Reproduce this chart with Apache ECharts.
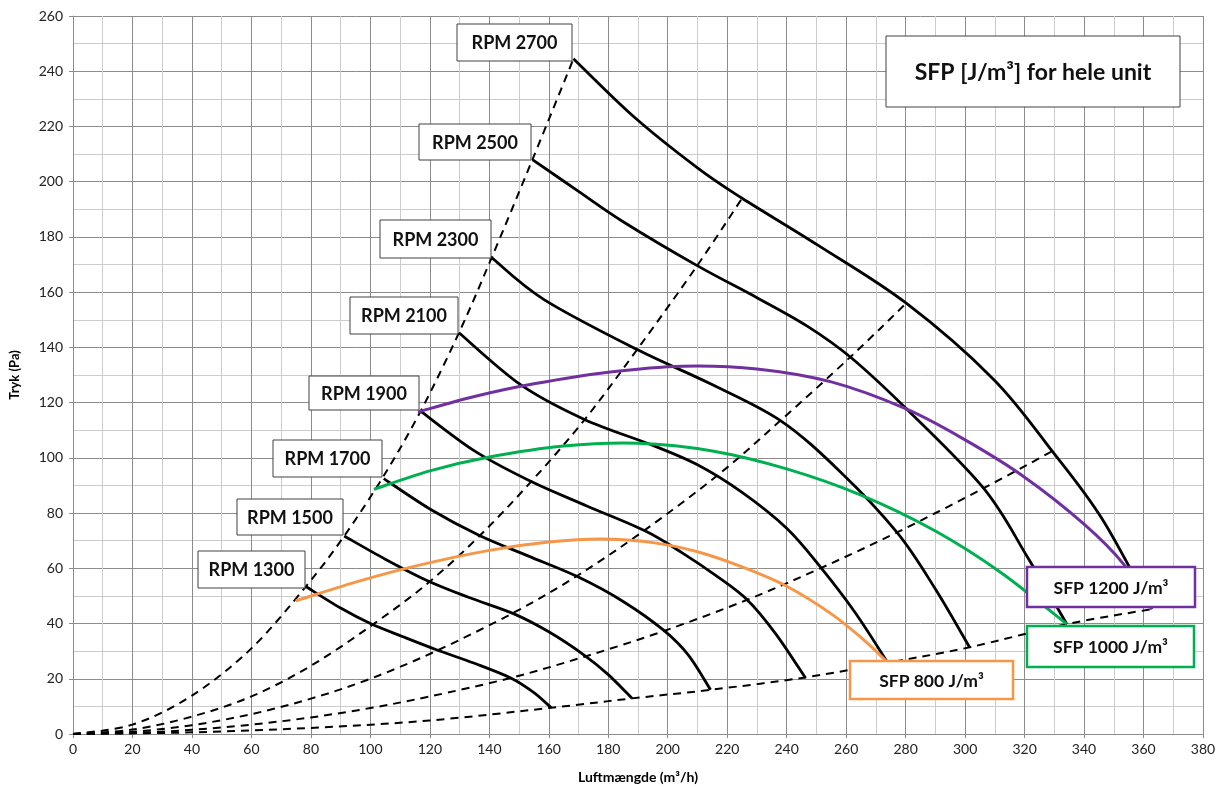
<!DOCTYPE html>
<html><head><meta charset="utf-8">
<script src="https://cdn.jsdelivr.net/npm/echarts@6/dist/echarts.min.js"></script>
<style>html,body{margin:0;padding:0;background:#fff}#c{width:1232px;height:789px}</style>
</head><body><div id="c"></div>
<script>
// ---- axis ranges / tick labels ----
const xMin = 0, xMax = 380, xStep = 20;
const yMin = 0, yMax = 260, yStep = 20;
const xAxisName = 'Luftmængde (m³/h)';
const yAxisName = 'Tryk (Pa)';
const titleText = 'SFP [J/m³] for hele unit';

// ---- fan curves (x = m3/h, y = Pa) ----
const rpmLabels = ['RPM 1300','RPM 1500','RPM 1700','RPM 1900','RPM 2100','RPM 2300','RPM 2500','RPM 2700'];
const rpm1300 = [[78.3,53.4],[90,45.6],[100,40],[111,35.2],[122,30.6],[135,25.6],[147.2,20.3],[155,15],[160.8,9.5]];
const rpm1500 = [[91.2,71.7],[105,63.3],[119.2,55.5],[133,49.5],[148.3,43.5],[160,37],[172,28.5],[180,21.5],[188,12.9]];
const rpm1700 = [[104.5,92.5],[120,81.5],[136.5,72],[153,64.5],[169.6,57],[185,48],[198.7,37.5],[207,28.5],[214.4,16]];
const rpm1900 = [[116.9,116.9],[135,102.5],[153.9,91.5],[173,82.5],[192.5,73.5],[205,65.5],[216,57.5],[226.7,48.6],[236.5,36],[246.3,20.3]];
const rpm2100 = [[129.8,145.3],[150.5,126.5],[171.8,114],[195,104.5],[210,97.5],[225,87.5],[240,74.5],[251.3,60.5],[263,44],[274,25.8]];
const rpm2300 = [[140.8,172.5],[158.4,157.3],[189.7,139.2],[214,127],[237.9,113.5],[258,95],[277.1,73],[290,52.5],[301.5,31.4]];
const rpm2500 = [[154.5,208],[170,196.5],[185,185.5],[209.9,169.6],[230,158],[246.9,147.7],[261.4,136.5],[280.5,117.5],[306.2,89],[321,64],[334.2,39.8]];
const rpm2700 = [[168.3,244.5],[188.6,223.5],[210,205],[225,194],[250.2,177.2],[280.2,156],[309.6,128.4],[329.3,102.4],[346,78],[362.8,45.2]];

// ---- system curves (dashed) ----
const sys1 = [[0,0],[20,3.4],[40,13.9],[60,31],[78.3,53.4],[91.2,71.7],[104.5,93.5],[116.9,116.9],[129.8,145.3],[140.8,172.5],[154.5,208],[168.3,244.5]];
const sys2 = [[0,0],[20,1.6],[40,6.3],[60,13.6],[80,24.7],[100,39],[119.2,54.5],[136.5,71.5],[153.9,91.2],[171.8,113.5],[189.7,139.2],[209.9,169.6],[225,194]];
const sys3 = [[0,0],[20,0.8],[40,3.2],[60,7.2],[80,12.8],[100,20],[122,30],[148.3,44],[169.6,57.3],[192.5,74],[217.7,94.5],[237.9,113.5],[261.4,136.5],[280.2,156]];
const sys4 = [[0,0],[20,0.4],[40,1.5],[60,3.4],[80,6],[100,9.4],[120,13.6],[147.2,20.3],[172,28],[198.7,37.3],[226.7,48.6],[251.3,60],[277.1,73],[306.2,89],[329.3,102.4]];
const sys5 = [[0,0],[40,0.6],[80,2.2],[120,4.9],[160.8,9.5],[188,12.9],[214.4,16],[246.3,20.5],[274,25.8],[301.5,31.4],[334.2,39.8],[362.8,45.2]];

// ---- SFP iso-lines ----
const sfpLabels = ['SFP 800 J/m³','SFP 1000 J/m³','SFP 1200 J/m³'];
const sfp800  = [[74.9,48.2],[95,55],[115,60.8],[140,66.5],[160,69.5],[178,70.6],[195,69.3],[210,66],[225,60.5],[240,53.5],[255,43.5],[266,34],[274,25.8]];
const sfp1000 = [[101.2,88.6],[120,95.3],[140,100.3],[165,104.3],[190,105.3],[215,102.5],[240,96],[265,86.5],[290,73.5],[312,58.5],[334.2,39.8]];
const sfp1200 = [[116,116.6],[135,122.2],[155,126.8],[180,131],[205,133.2],[230,132.2],[255,127.5],[280,117.8],[300,106.5],[320,93],[340,76],[353.3,61.5],[362.8,45.2]];

const rpmSeries = [rpm1300,rpm1500,rpm1700,rpm1900,rpm2100,rpm2300,rpm2500,rpm2700];
const sysSeries = [sys1,sys2,sys3,sys4,sys5];
const sfpSeries = [sfp800,sfp1000,sfp1200];
const sfpColors = ['#f79646','#00b050','#7030a0'];

const FONT = 'Lato, "Open Sans", sans-serif';

// smooth curve through the data points, positioned with the chart's own axes (api.coord)
function splineSeries(name, data, color, width, dash, z){
  return {
    type:'custom', name:name, data:data, z:z, silent:true,
    encode:{x:0, y:1},
    renderItem:function(params, api){
      if (params.dataIndex !== 0) return null;
      const p = data.map(d => api.coord(d));
      let path = 'M' + p[0][0].toFixed(2) + ' ' + p[0][1].toFixed(2);
      for (let i = 0; i < p.length - 1; i++){
        const p0 = p[i-1] || p[i], p1 = p[i], p2 = p[i+1], p3 = p[i+2] || p[i+1];
        const c1x = p1[0] + (p2[0]-p0[0])/6, c1y = p1[1] + (p2[1]-p0[1])/6;
        const c2x = p2[0] - (p3[0]-p1[0])/6, c2y = p2[1] - (p3[1]-p1[1])/6;
        path += ' C' + c1x.toFixed(2)+' '+c1y.toFixed(2)+' '+c2x.toFixed(2)+' '+c2y.toFixed(2)+' '+p2[0].toFixed(2)+' '+p2[1].toFixed(2);
      }
      return {type:'path', shape:{pathData:path},
        style:{fill:'none', stroke:color, lineWidth:width, lineDash:dash || null, lineCap:'butt', lineJoin:'round'}};
    }
  };
}

const series = [];
sysSeries.forEach((d,i)=>series.push(splineSeries('sys'+i, d, '#000', 2, [8,6], 2)));
rpmSeries.forEach((d,i)=>series.push(splineSeries(rpmLabels[i], d, '#000', 2.8, null, 3)));
sfpSeries.forEach((d,i)=>series.push(splineSeries(sfpLabels[i], d, sfpColors[i], 3, null, 4)));

// annotation boxes (pixel layout)
function box(x,y,w,h,text,stroke,lw,fs){
  return [
    {type:'rect', z:100, shape:{x:x,y:y,width:w,height:h}, style:{fill:'#fff', stroke:stroke, lineWidth:lw}},
    {type:'text', z:101, style:{text:text, x:x+w/2, y:y+h/2+1, align:'center', verticalAlign:'middle',
      font:'bold '+fs+'px '+FONT, fill:'#111'}}
  ];
}
const rpmBoxes = [
  [198,551,107,37],[237,499,106,36],[273,440,109,37],[309,376,110,34],
  [350,297,108,37],[380,220,111,38],[419,124,112,36],[457,24,115,37]
];
let elements = [];
rpmBoxes.forEach((b,i)=>{ elements = elements.concat(box(b[0],b[1],b[2],b[3],rpmLabels[i],'#404040',1,18)); });
elements = elements.concat(box(886,36,294,71,titleText,'#404040',1,23));
elements = elements.concat(box(850,661,163,38,sfpLabels[0],sfpColors[0],2.5,17.5));
elements = elements.concat(box(1027,626,167,41,sfpLabels[1],sfpColors[1],2.5,17.5));
elements = elements.concat(box(1027,567,168,40,sfpLabels[2],sfpColors[2],2.5,17.5));

const chart = echarts.init(document.getElementById('c'), null, {renderer:'canvas'});
chart.setOption({
  animation:false,
  backgroundColor:'#fff',
  grid:{left:72, right:29, top:16, bottom:54, containLabel:false},
  xAxis:{type:'value', min:xMin, max:xMax, interval:xStep,
    name:xAxisName, nameLocation:'middle', nameGap:36,
    nameTextStyle:{fontFamily:FONT, fontWeight:'bold', fontSize:14, color:'#000'},
    axisLine:{show:true, onZero:false, lineStyle:{color:'#8c8c8c', width:1}},
    axisTick:{show:true, length:4, lineStyle:{color:'#8c8c8c'}},
    axisLabel:{fontFamily:FONT, fontSize:14, color:'#222', margin:8},
    splitLine:{show:true, lineStyle:{color:'#8c8c8c', width:1}},
    minorTick:{show:false, splitNumber:2},
    minorSplitLine:{show:true, lineStyle:{color:'#cccccc', width:1}}
  },
  yAxis:{type:'value', min:yMin, max:yMax, interval:yStep,
    name:yAxisName, nameLocation:'middle', nameGap:52,
    nameTextStyle:{fontFamily:FONT, fontWeight:'bold', fontSize:13, color:'#000'},
    axisLine:{show:true, lineStyle:{color:'#8c8c8c', width:1}},
    axisTick:{show:true, length:4, lineStyle:{color:'#8c8c8c'}},
    axisLabel:{fontFamily:FONT, fontSize:14, color:'#222', margin:10},
    splitLine:{show:true, lineStyle:{color:'#8c8c8c', width:1}},
    minorTick:{show:false, splitNumber:2},
    minorSplitLine:{show:true, lineStyle:{color:'#cccccc', width:1}}
  },
  series:series,
  graphic:{elements:elements}
});
</script></body></html>
